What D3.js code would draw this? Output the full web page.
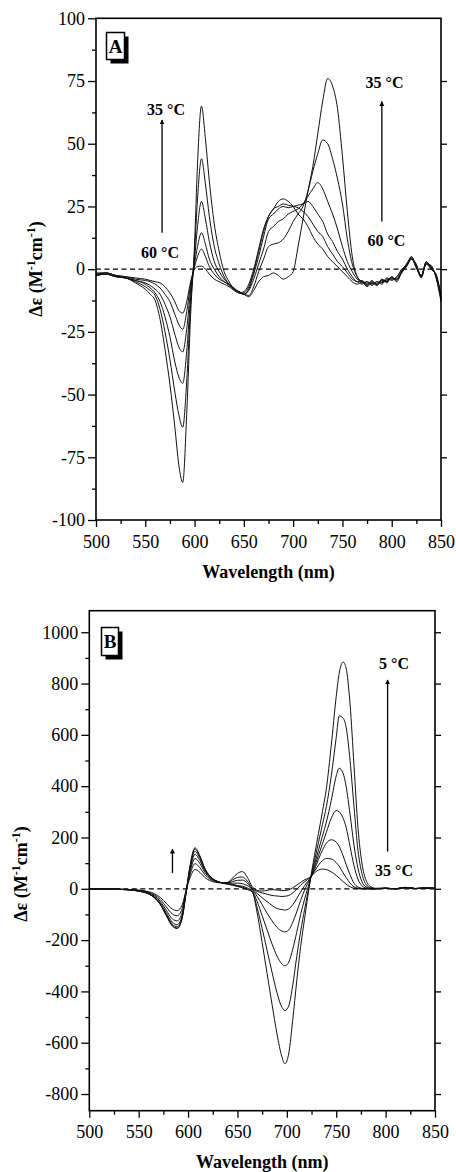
<!DOCTYPE html>
<html>
<head>
<meta charset="utf-8">
<script src="https://cdn.jsdelivr.net/npm/d3@7"></script>
<style>
  html, body { margin: 0; padding: 0; background: #fff; }
  svg { display: block; font-family: "Liberation Serif", "Times New Roman", serif; }
</style>
</head>
<body>
<svg id="chart" width="456" height="1172"></svg>
<script>
// ---------- Panel A: CD spectra, 35–60 °C ----------
const wavelengthA = [500,510,520,530,540,550,555,560,565,570,575,580,584,588,592,596,600,603,607,611,615,620,625,630,635,640,645,650,655,660,665,670,675,680,685,690,695,700,705,710,715,720,725,730,735,740,745,750,755,760,765,770,775,780,785,790,795,800,805,810,815,820,825,830,835,840,845,850];

const cdA_35 = [-2.5,-2,-3,-3.5,-5.5,-8,-10,-12.5,-20,-32,-46,-63,-78,-85,-58,-18,10,42,65,52,35,18,7,-1,-5,-8,-9,-10,-11,-8.5,-5,-3,-2.5,-1.5,-2.5,-4,-3,-1,9,20,31,41,54,67,76,73,64,45,23,5,-3,-5,-6,-4.5,-6.5,-4,-5.5,-3,-4.5,-1,1.5,4.5,1,-3.5,2.5,1,-3,-12];
const cdA_40 = [-2.5,-2,-3,-3.5,-5,-7,-8.5,-10.5,-16,-25,-36,-49,-58,-63,-45,-14,7,28,44,34,21,9,2,-3,-6,-8,-9.5,-10,-10.5,-7,-1,4,9,10,10.5,12,15,19,22,25,31,39,46,51.5,50,44,36,26,12,2,-3,-5.5,-5,-6,-5,-5.5,-3.5,-4.5,-3,-0.5,2,5,0.5,-2.5,2,0,-2,-11];
const cdA_45 = [-2.5,-2,-3,-3.5,-4.5,-6,-7.5,-9.5,-13,-19,-27,-37,-43,-45.5,-33,-11,4,17,27,20,11,3,-1,-4,-6,-8,-9,-10,-8.5,-4,2,8,15,17,19,20,22,23,24,26,29,32,34.5,32,27,22,16,9,3,-1,-4,-5,-6.5,-5,-6,-4.5,-5,-3.5,-4,-1.5,1,4,1.5,-3,3,0.5,-2.5,-10];
const cdA_50 = [-2.5,-1.5,-2.5,-3.5,-4.5,-5.5,-6.5,-8,-10,-14,-19,-26,-31,-33,-24,-8,2,9,14.5,10,4,0,-3,-5,-6,-7.5,-9,-10,-8,-2,5,13,20,22,24,25,24.5,25,25.5,26,27,25,22,19,14,11,7,4,0,-3,-5,-4.5,-6,-5.5,-6.5,-4,-5,-3,-5,-1.5,1.5,4,0.5,-3,2,1.5,-3.5,-13];
const cdA_55 = [-2,-1.5,-2.5,-3,-4,-4.5,-5,-6,-7.5,-10,-13,-18,-22,-24,-17,-6,1,5,8,5,1,-2,-4,-5,-6.5,-8,-9,-9.5,-7,-1,7,15,21,24,25,26,25.5,25,24.5,23,21,18,15,13,9,6,3,1,-1.5,-4,-5,-6,-5,-6.5,-5,-6,-4,-4,-3.5,0,1,5,1,-2.5,3,0,-2.5,-12];
const cdA_60 = [-1.5,-1.5,-2.5,-3,-3.5,-4,-4.5,-5,-5.5,-7,-9.5,-13,-16.5,-17.5,-13,-5,0,1,1.2,0,-2,-4,-5,-6,-7,-8.5,-9.5,-9,-6,0,8,16,21,24,27,28,27,25,22,20,17,13,10,8,5,3,1,-1,-3,-5,-6,-5,-7,-5.5,-6,-5,-4.5,-3.5,-4,-1,2,4,2,-3,2.5,1,-3,-11];
const seriesA = [cdA_35, cdA_40, cdA_45, cdA_50, cdA_55, cdA_60];

const xTicks = [500,550,600,650,700,750,800,850];
const xMinorTicks = [525,575,625,675,725,775,825];
const yTicksA = [-100,-75,-50,-25,0,25,50,75,100];
const yMinorTicksA = [-87.5,-62.5,-37.5,-12.5,12.5,37.5,62.5,87.5];

// ---------- Panel B: CD spectra, 5–35 °C ----------
const wavelengthB = [500,520,540,550,560,566,572,578,584,589,594,598,602,607,612,617,622,628,634,640,645,650,655,660,665,670,675,680,685,690,695,698,702,706,710,714,718,721,724,728,732,736,740,745,750,753,757,760,764,768,772,776,780,785,790,800,810,820,830,840,850];

const cdB_5  = [0,-1,-4,-9,-20,-35,-62,-105,-145,-155,-115,-15,90,160,128,80,50,32,23,18, 14,9,4,-3,-12,-95,-210,-330,-450,-565,-655, -682,-640,-510,-360,-225,-115,-35,40,130,215,300,390, 560,750,840,884,860,720,480,240,100,35,8,2, 3,0,6,1,3,2];
const cdB_10 = [0,-1,-4,-9,-20,-35,-62,-104,-143,-153,-113,-15,87,155,124,78,49,32,23,19, 15,10,6,-1,-12,-75,-155,-240,-325,-405,-462, -475,-455,-375,-265,-165,-80,-20,40,110,180,250,320, 440,590,674,665,630,500,320,150,60,18,4,1, 2,-1,5,1,2,2];
const cdB_15 = [0,-1,-4,-9,-19,-34,-60,-100,-138,-148,-110,-14,82,146,118,75,48,31,23,20, 17,13,10,3,-8,-50,-105,-160,-215,-262,-293, -300,-285,-235,-170,-100,-40,0,40,95,150,205,260, 345,440,470,450,400,290,170,80,28,8,2,0, 2,0,5,1,3,2];
const cdB_20 = [0,-1,-4,-8,-18,-32,-56,-94,-130,-140,-104,-12,75,134,110,70,46,31,24,22, 22,22,20,12,-3,-30,-62,-95,-125,-150,-165, -168,-160,-130,-90,-45,-5,20,42,85,130,175,220, 275,305,300,275,240,165,90,38,12,3,0,0, 2,0,5,1,3,2];
const cdB_25 = [0,-1,-3,-7,-16,-28,-50,-84,-117,-125,-93,-10,65,118,98,64,43,30,24,23, 28,33,34,22,-2,-18,-35,-50,-65,-77,-81, -83,-78,-62,-38,-12,12,28,42,75,115,150,178, 191,182,165,128,95,55,22,7,2,0,0,0, 2,0,5,1,3,2];
const cdB_30 = [0,-1,-3,-6,-14,-24,-42,-71,-98,-105,-78,-8,55,98,82,55,38,28,24,24, 35,44,46,30,2,-10,-16,-21,-26,-28,-30, -29,-26,-16,-2,14,28,36,44,68,92,110,118, 116,102,88,62,44,22,8,2,0,0,0,0, 2,0,5,1,3,2];
const cdB_35 = [0,-1,-3,-5,-11,-19,-34,-57,-79,-85,-63,-6,43,75,64,44,32,25,23,25, 42,60,67,45,8,-6,-9,-6,-3,-5,-6.5, -7,-4,4,14,25,35,40,47,62,73,77,75, 66,52,42,28,18,8,2,0,0,0,0,0, 2,0,5,1,3,2];
const seriesB = [cdB_5, cdB_10, cdB_15, cdB_20, cdB_25, cdB_30, cdB_35];

const yTicksB = [-800,-600,-400,-200,0,200,400,600,800,1000];
const yMinorTicksB = [-700,-500,-300,-100,100,300,500,700,900];

const svg = d3.select("#chart");

// arrowhead used by the temperature arrows
svg.append("defs").append("marker")
  .attr("id", "arrowhead")
  .attr("viewBox", "0 0 10 10")
  .attr("refX", 9).attr("refY", 5)
  .attr("markerUnits", "userSpaceOnUse")
  .attr("markerWidth", 5).attr("markerHeight", 8)
  .attr("orient", "auto")
  .append("path").attr("d", "M0,0 L10,5 L0,10 Z").attr("fill", "#000");

function drawPanel(cfg) {
  const g = svg.append("g");
  const x = d3.scaleLinear().domain([500, 850]).range([cfg.left, cfg.right]);
  const y = d3.scaleLinear().domain(cfg.yDomain).range([cfg.bottom, cfg.top]);

  // zero reference line
  g.append("line")
    .attr("x1", x(500)).attr("x2", x(850))
    .attr("y1", y(0)).attr("y2", y(0))
    .attr("stroke", "#000").attr("stroke-width", 1.2)
    .attr("stroke-dasharray", "5,3.5");

  // spectra
  const line = d3.line()
    .x((d, i) => x(cfg.wavelength[i]))
    .y(d => y(d))
    .curve(d3.curveMonotoneX);
  g.selectAll("path.spectrum").data(cfg.series).enter().append("path")
    .attr("class", "spectrum")
    .attr("d", line)
    .attr("fill", "none")
    .attr("stroke", "#111")
    .attr("stroke-width", 1);

  // frame
  g.append("rect")
    .attr("x", cfg.left).attr("y", cfg.top)
    .attr("width", cfg.right - cfg.left).attr("height", cfg.bottom - cfg.top)
    .attr("fill", "none").attr("stroke", "#000").attr("stroke-width", 1.6);

  const styleAxis = sel => {
    sel.select(".domain").remove();
    sel.selectAll("line").attr("stroke", "#000").attr("stroke-width", 1.3);
    sel.selectAll("text").attr("fill", "#000").attr("font-size", 18)
      .attr("font-family", "Liberation Serif, Times New Roman, serif");
  };

  g.append("g").attr("transform", `translate(0,${cfg.bottom})`)
    .call(d3.axisBottom(x).tickValues(xTicks).tickSize(7).tickPadding(8).tickFormat(d3.format("d")))
    .call(styleAxis);
  g.append("g").attr("transform", `translate(0,${cfg.bottom})`)
    .call(d3.axisBottom(x).tickValues(xMinorTicks).tickSize(4).tickFormat(""))
    .call(styleAxis);
  g.append("g").attr("transform", `translate(${cfg.left},0)`)
    .call(d3.axisLeft(y).tickValues(cfg.yTicks).tickSize(8).tickPadding(3).tickFormat(d => String(d)))
    .call(styleAxis);
  g.append("g").attr("transform", `translate(${cfg.left},0)`)
    .call(d3.axisLeft(y).tickValues(cfg.yMinor).tickSize(4).tickFormat(""))
    .call(styleAxis);
  g.append("g").attr("transform", `translate(${cfg.right},0)`)
    .call(d3.axisRight(y).tickValues(cfg.yTicks.filter(v => v > cfg.yDomain[0] && v < cfg.yDomain[1])).tickSize(6).tickFormat(""))
    .call(styleAxis);

  // axis titles
  g.append("text")
    .attr("x", (cfg.left + cfg.right) / 2).attr("y", cfg.xTitleY)
    .attr("text-anchor", "middle").attr("font-size", 18).attr("font-weight", "bold")
    .text("Wavelength (nm)");

  const yt = g.append("text")
    .attr("transform", `translate(${cfg.yTitleX},${cfg.yTitleY}) rotate(-90)`)
    .attr("text-anchor", "middle").attr("font-size", 18).attr("font-weight", "bold");
  yt.append("tspan").text("\u0394\u03b5 (M");
  yt.append("tspan").attr("dy", -7).attr("font-size", 12).text("-1");
  yt.append("tspan").attr("dy", 7).text("cm");
  yt.append("tspan").attr("dy", -7).attr("font-size", 12).text("-1");
  yt.append("tspan").attr("dy", 7).text(")");

  // panel letter with drop shadow
  const b = cfg.badge;
  g.append("rect").attr("x", b.x + 4).attr("y", b.y + 4).attr("width", b.w).attr("height", b.h).attr("fill", "#000");
  g.append("rect").attr("x", b.x).attr("y", b.y).attr("width", b.w).attr("height", b.h)
    .attr("fill", "#fff").attr("stroke", "#000").attr("stroke-width", 1.5);
  g.append("text").attr("x", b.x + b.w / 2).attr("y", b.y + b.h / 2 + 6.5)
    .attr("text-anchor", "middle").attr("font-size", 19).attr("font-weight", "bold")
    .text(cfg.letter);

  // temperature annotations (anchored in data coordinates)
  cfg.arrows.forEach(a => {
    g.append("line")
      .attr("x1", x(a.wl)).attr("x2", x(a.wl))
      .attr("y1", y(a.from)).attr("y2", y(a.to))
      .attr("stroke", "#000").attr("stroke-width", 1.3)
      .attr("marker-end", "url(#arrowhead)");
  });
  cfg.labels.forEach(l => {
    g.append("text").attr("x", x(l.wl)).attr("y", y(l.v))
      .attr("text-anchor", "middle").attr("font-size", 16).attr("font-weight", "bold")
      .text(l.text);
  });
}

drawPanel({
  wavelength: wavelengthA, series: seriesA,
  left: 96, right: 441, top: 18.3, bottom: 520,
  yDomain: [-100, 100], yTicks: yTicksA, yMinor: yMinorTicksA,
  xTitleY: 578, yTitleX: 41.5, yTitleY: 269,
  letter: "A", badge: { x: 106.5, y: 32.5, w: 18, h: 27 },
  arrows: [ { wl: 567, from: 14.5, to: 59.5 }, { wl: 790, from: 19, to: 66.8 } ],
  labels: [
    { wl: 571, v: 61.5, text: "35 \u00b0C" },
    { wl: 565, v: 4.5, text: "60 \u00b0C" },
    { wl: 792.7, v: 72.3, text: "35 \u00b0C" },
    { wl: 794.6, v: 9.3, text: "60 \u00b0C" }
  ]
});

drawPanel({
  wavelength: wavelengthB, series: seriesB,
  left: 89.3, right: 435, top: 610.7, bottom: 1110.7,
  yDomain: [-865, 1084], yTicks: yTicksB, yMinor: yMinorTicksB,
  xTitleY: 1168, yTitleX: 27, yTitleY: 874,
  letter: "B", badge: { x: 101.5, y: 627.5, w: 17, h: 28 },
  arrows: [ { wl: 802, from: 145, to: 814 }, { wl: 584.2, from: 62, to: 155 } ],
  labels: [
    { wl: 808.5, v: 857, text: "5 \u00b0C" },
    { wl: 808.5, v: 48, text: "35 \u00b0C" }
  ]
});
</script>
</body>
</html>
